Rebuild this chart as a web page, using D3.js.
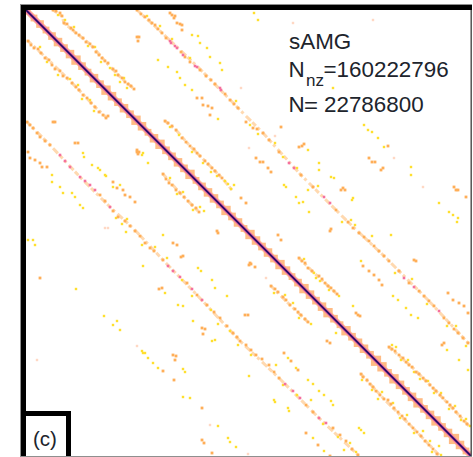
<!DOCTYPE html>
<html><head><meta charset="utf-8">
<script src="https://cdn.jsdelivr.net/npm/d3@7"></script>
<style>html,body{margin:0;padding:0;background:#fff}svg{display:block}text{font-family:"Liberation Sans",Arial,sans-serif;fill:#20242c}</style>
</head><body><div id="chart"></div>
<script>
// matrix cells, [column, row]
const diagonalCols = [26,472];
const diagonalRows = [10,457];
const haloCols = [28,34,40,46,52,58,64,70,76,82,88,94,100,106,112,118,124,130,136,142,148,154,160,166,172,178,184,190,196,202,208,214,220,226,232,238,244,250,256,262,268,274,280,286,292,298,304,310,316,322,328,334,340,346,352,358,364,370,376,382,388,394,400,406,412,418,424,430,436,442,448,454,460,466];
const haloSizes = [6,8,9,8,9,10,9,10,11,9,8,10,9,11,10,9,10,9,11,10,8,10,11,9,9,10,9,11,8,9,10,10,9,11,9,10,8,11,10,9,10,9,11,10,8,9,11,10,9,10,11,9,8,11,9,10,10,9,12,11,9,11,10,9,10,11,9,10,11,9,10,12,10,8];
// off-diagonal band courses, [column, row]
const bandSections = [
[[53,10],[62,16],[64,23],[76,33],[90,44],[105,61],[118,75],[134,89]],
[[165,121],[176,130],[190,146],[205,161],[222,178],[232,190]],
[[299,258],[312,271],[325,283],[338,295]],
[[389,347],[412,367],[436,391],[456,412],[469,426]],
[[28,41],[41,53],[60,71],[79,90],[95,107],[107,118]],
[[163,174],[180,193],[199,212]],
[[271,286],[290,305],[309,323]],
[[361,374],[384,399],[413,428],[439,455]],
[[137,10],[158,29],[200,69],[240,110],[263,133],[301,175],[348,222],[384,256],[429,301],[470,345]],
[[27,122],[50,145],[80,177],[110,207],[133,228],[163,260],[197,295],[240,341],[279,378],[319,418],[358,455]]
];
const orangeCells = [
[53,10],[56,11],[60,13],[62,16],[64,23],[67,24],[71,28],[73,30],[76,33],[79,35],[83,38],[86,42],[90,44],[93,47],[96,52],[99,55],[102,58],[105,61],[108,63],[113,69],[116,71],[118,75],[122,78],[125,82],[128,84],[131,86],[134,89],
[165,121],[168,123],[172,126],[176,130],[182,138],[186,142],[190,146],[194,149],[197,153],[200,156],[205,161],[208,164],[212,168],[215,171],[219,175],[222,178],
[299,258],[302,261],[305,263],[308,268],[312,271],[319,276],[322,279],[325,283],[328,286],[331,288],[334,291],[337,294],
[389,347],[392,349],[395,351],[399,355],[403,358],[406,362],[409,365],[412,367],[416,372],[419,374],[423,378],[426,381],[430,385],[433,388],[436,391],[440,395],[443,398],[447,402],[450,405],[453,408],[456,412],[460,416],[464,421],[467,424],
[28,41],[31,45],[34,48],[38,49],[41,53],[45,58],[49,60],[52,65],[55,69],[60,71],[63,76],[67,78],[72,83],[76,87],[79,90],[83,95],[87,98],[91,103],[95,107],[99,112],[103,115],[106,118],[108,116],
[163,174],[166,179],[169,183],[172,185],[176,190],[180,193],[184,197],[188,201],[192,205],[196,208],[199,212],
[271,286],[275,289],[278,292],[283,297],[286,300],[290,305],[295,309],[298,312],[301,315],[305,319],[308,322],
[361,374],[363,377],[367,380],[370,384],[373,387],[376,391],[380,395],[384,399],[388,400],[391,404],[394,408],[398,412],[402,416],[405,419],[409,424],[413,428],[417,432],[421,436],[425,441],[429,445],[433,449],[437,454],
[137,10],[141,14],[145,17],[149,20],[152,23],[155,25],[158,29],[162,33],[166,38],[181,52],[185,57],[190,62],[200,70],[206,76],[211,80],[215,84],[225,94],[230,100],[234,104],[238,108],
[246,122],[253,128],[257,129],[263,133],[269,140],[279,152],[301,175],[313,187],[336,210],[348,222],
[353,228],[359,233],[364,237],[369,241],[374,246],[379,251],[384,256],[389,261],[399,271],[409,283],[419,291],[424,296],[429,301],[434,306],[444,318],[449,323],[454,329],[458,333],[463,338],[468,343],
[27,122],[30,125],[33,128],[37,133],[40,137],[45,141],[50,145],[100,195],[105,201],[113,211],[118,217],[125,221],[130,226],
[135,231],[140,236],[145,243],[150,248],[154,251],[163,260],[187,283],[197,295],[207,305],[214,312],[220,318],[227,326],[233,333],[237,337],[240,341],
[246,345],[251,350],[256,355],[262,359],[269,365],[274,372],[279,378],[306,405],[313,412],[333,428],[340,435],[346,441],[352,449],[358,455],
[170,13],[172,15],[175,16],[174,18],[177,23],[180,24],[182,25],[182,30],[137,37],[139,37],[138,41],
[197,98],[202,98],[203,105],[208,106],[212,108],[210,115],[53,122],[55,122],[75,143],[78,143],
[113,182],[117,188],[123,190],[125,195],[130,197],[135,202],[28,152],[30,158],[35,160],[40,163],[42,167],[47,167],
[137,150],[139,152],[138,154],[137,152],[281,127],[299,147],[304,144],[302,146],[256,158],[260,162],[263,162],[268,168],[271,172],[343,188],[341,190],[345,190],[241,198],[246,203],[388,146],[369,158],[372,162],[375,162],[383,168],[381,170],[454,187],[456,190],[458,190],[466,197],
[40,278],[163,371],[173,355],[176,356],[175,360],[174,380],[202,408],[202,440],[204,443],[212,453],[173,243],[177,245],[183,256],[181,257],[162,288],[159,289],[202,328],[205,329],[217,231],[218,233],[203,334],
[278,235],[281,240],[330,231],[331,229],[414,260],[416,261],[250,263],[251,264],[249,265],[255,267],[356,313],[358,315],[360,316],[245,315],[248,315],[327,341],[330,343],[284,353],[291,361],[298,370],[444,343],[442,345],[448,293],[453,300],[459,303],[464,306],[468,313],[363,266],[369,271],[374,275],[379,280],[382,285],[306,433],[318,445],[330,456]
];
const pinkCells = [
[171,43],[177,48],[195,66],[221,90],[170,41],[175,46],[183,55],[197,67],[220,88],[289,163],[294,168],[324,197],[330,203],
[404,278],[414,287],[439,311],
[60,155],[65,161],[70,167],[80,177],[85,181],[90,185],[95,190],[110,207],
[168,266],[173,271],[180,277],[192,289],[202,300],
[285,384],[293,391],[300,398],[319,418],[326,423]
];
const yellowCells = [
[58,15],[65,20],[74,27],[88,46],[95,47],[101,62],[110,68],[115,75],[124,78],[127,88],[120,82],
[170,127],[179,135],[192,152],[203,163],[211,172],[217,176],[225,181],[228,184],[231,189],[234,185],
[304,259],[314,273],[320,281],[329,290],[339,296],[316,278],
[392,345],[396,347],[401,360],[408,360],[414,372],[420,379],[428,381],[434,393],[441,393],[449,409],[455,406],[461,420],[466,419],[470,426],
[40,47],[47,62],[58,75],[70,79],[78,85],[82,99],[90,100],[94,111],
[170,178],[177,194],[183,192],[193,210],[200,207],[204,211],
[274,293],[285,295],[293,303],[299,318],[311,324],
[362,380],[372,390],[382,392],[378,399],[393,403],[400,418],[407,415],[414,433],[423,431],[430,441],[432,452],[439,446],[441,455],
[147,16],[160,26],[172,39],[190,58],[236,101],[250,125],[258,134],[275,143],[283,157],[297,168],[308,190],[318,186],[342,222],[351,220],[355,225],[372,236],[395,273],[412,279],[427,304],[447,326],[456,326],[466,346],
[116,218],[122,224],[127,219],[126,232],[142,245],[155,247],[167,258],[182,280],[192,296],[211,310],[218,324],[230,331],[238,345],
[251,355],[276,365],[283,385],[297,395],[311,400],[323,424],[338,437],[350,443],[356,452],[344,450],
[192,35],[198,36],[200,43],[207,48],[210,57],[220,63],[222,70],[158,60],[168,67],[177,72],[180,78],[185,85],[192,90],[218,119],
[83,153],[84,157],[92,165],[100,170],[106,176],[98,168],[105,175],[120,185],[113,187],[52,175],[52,182],[60,187],[63,193],[72,193],[75,197],[80,205],[83,208],
[143,153],[142,155],[148,163],[254,13],[258,20],[333,88],[308,150],[284,185],[286,187],[319,163],[319,170],[331,177],[334,178],[353,198],[352,200],[296,197],[299,203],[303,202],[309,212],
[364,125],[368,130],[372,132],[378,138],[384,147],[411,167],[411,175],[439,203],[449,212],[453,215],[458,218],[457,222],
[28,240],[33,240],[35,245],[76,289],[104,316],[113,325],[117,321],[120,330],[142,351],[145,353],[148,358],[153,363],[158,368],[143,353],[183,369],[185,372],[183,397],[190,398],[218,426],[228,438],[230,442],[236,447],
[163,235],[198,268],[201,271],[212,280],[215,288],[227,296],[178,305],[183,306],[193,321],[212,341],[215,340],[165,293],[143,266],
[391,235],[353,306],[336,333],[308,380],[313,384],[319,391],[324,395],[331,401],[333,405],[274,400],[275,402],[288,408],[289,411],[249,376],[359,428],[361,430],[364,433],[393,296],[398,300],[406,308],[411,315],[418,318],[361,261],[447,350],[459,360],[468,370],[288,358],[296,368],[313,438],[324,451]
];
const paleCells = [
[293,23],[373,20],[241,88],[275,136],[249,148],[394,158],[423,187],[137,346],[210,425],[37,360],[266,278],[105,228],[108,228],[248,454]
];

const xScale = d3.scaleLinear().domain([26,472]).range([26,472]);
const yScale = d3.scaleLinear().domain([10,457]).range([10,457]);

const svg = d3.select("#chart").append("svg").attr("width",473).attr("height",457);
svg.append("rect").attr("width",473).attr("height",457).attr("fill","#fff");
const defs = svg.append("defs");
defs.append("filter").attr("id","soft").append("feGaussianBlur").attr("stdDeviation",0.5);
defs.append("clipPath").attr("id","plot").append("rect").attr("x",26).attr("y",10).attr("width",445).attr("height",446);

const g = svg.append("g").attr("clip-path","url(#plot)").append("g").attr("filter","url(#soft)");
const bandLine = d3.line().x(d=>xScale(d[0])).y(d=>yScale(d[1]));
g.append("g").selectAll("path").data(bandSections).join("path").attr("d",bandLine)
  .attr("fill","none").attr("stroke","#ffd9b0").attr("stroke-width",3).attr("stroke-dasharray","5 2.5 3 3.5 7 2");
const cell = (data,size,color,opacity=1) => g.append("g").selectAll("rect").data(data).join("rect")
  .attr("x",d=>xScale(d[0])-size/2).attr("y",d=>yScale(d[1])-size/2)
  .attr("width",size).attr("height",size).attr("fill",color).attr("opacity",opacity);
cell(paleCells,2.4,"#ffd8c4");
cell(yellowCells,2.4,"#ffdf2e");
cell(orangeCells,2.8,"#ffae58");
cell(pinkCells,2.6,"#f5709e");

const diagY = d3.scaleLinear().domain(diagonalCols).range(diagonalRows);
const halo = haloCols.map((c,i)=>({c,s:haloSizes[i]*0.85}));
const line = d3.line().x(d=>xScale(d)).y(d=>yScale(diagY(d)));
g.append("path").attr("d",line(diagonalCols)).attr("fill","none").attr("stroke","#ffc79c").attr("stroke-width",6);
g.append("g").selectAll("rect").data(halo).join("rect")
  .attr("x",d=>xScale(d.c)-d.s/2).attr("y",d=>yScale(diagY(d.c))-d.s/2)
  .attr("width",d=>d.s).attr("height",d=>d.s).attr("fill","#ffbb84");
g.append("path").attr("d",line(diagonalCols)).attr("fill","none").attr("stroke","#ef7ba0").attr("stroke-width",4);
g.append("path").attr("d",line(diagonalCols)).attr("fill","none").attr("stroke","#a8329a").attr("stroke-width",2.4);
g.append("path").attr("d",line(diagonalCols)).attr("fill","none").attr("stroke","#1c0c5e").attr("stroke-width",1.5);

// frame
svg.append("rect").attr("x",20.5).attr("y",4.5).attr("width",451).attr("height",452).attr("fill","none").attr("stroke","#8f8f8f").attr("stroke-width",1);
svg.append("rect").attr("x",21).attr("y",5).attr("width",451).attr("height",5).attr("fill","#000");
svg.append("rect").attr("x",21).attr("y",5).attr("width",5).attr("height",451).attr("fill","#000");
svg.append("rect").attr("x",470.5).attr("y",10).attr("width",1.2).attr("height",446).attr("fill","#444");
svg.append("rect").attr("x",26).attr("y",416).attr("width",41).attr("height",40).attr("fill","#fff");
svg.append("path").attr("d","M26 413.5H68.5V456").attr("fill","none").attr("stroke","#000").attr("stroke-width",5).attr("stroke-linejoin","miter");

// labels
const label = t => t.attr("font-size",22.4);
label(svg.append("text").attr("x",289).attr("y",49).text("sAMG"));
label(svg.append("text").attr("x",288.5).attr("y",77).text("N"));
svg.append("text").attr("x",306).attr("y",86).attr("font-size",17).text("nz");
label(svg.append("text").attr("x",323.5).attr("y",77).text("=160222796"));
label(svg.append("text").attr("x",288.5).attr("y",112).text("N"));
svg.append("text").attr("x",304).attr("y",113).attr("font-size",22).attr("textLength",14).attr("lengthAdjust","spacingAndGlyphs").text("=");
label(svg.append("text").attr("x",324).attr("y",112).text("22786800"));
svg.append("text").attr("x",33).attr("y",446).attr("font-size",20.5).text("(c)");
</script></body></html>
